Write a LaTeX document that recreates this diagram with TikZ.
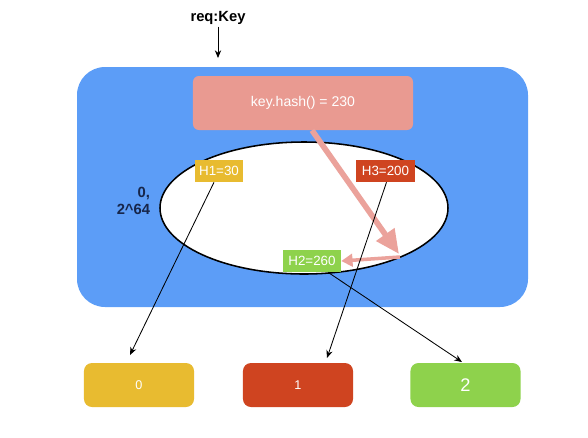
\documentclass[tikz,border=0pt]{standalone}
\usepackage{fontspec}
\setmainfont{Liberation Sans}
\usetikzlibrary{arrows.meta}

\definecolor{ringblue}{HTML}{5C9DF7}
\definecolor{hashpink}{HTML}{E99A91}
\definecolor{arrowpink}{HTML}{EBA29B}
\definecolor{nodeyellow}{HTML}{E8BB30}
\definecolor{nodered}{HTML}{CF4420}
\definecolor{nodegreen}{HTML}{8ED24C}
\definecolor{labelnavy}{HTML}{17264A}

\tikzset{
  hashpt/.style={fill=#1, text=white, inner sep=0pt, minimum height=0.55cm, font=\fontsize{9.5}{11}\selectfont},
  server/.style={fill=#1, text=white, rounded corners=0.2cm, minimum width=2.75cm, minimum height=1.1cm, inner sep=0pt},
  link/.style={-{Stealth[length=5.5pt,width=4.5pt]}, line width=0.6pt}
}

\begin{document}
\begin{tikzpicture}[x=0.025cm, y=-0.025cm]
    \useasboundingbox (0,0) rectangle (588,437);

    % request
    \node[font=\bfseries\fontsize{10.5}{12}\selectfont] (req) at (218,18) {req:Key};
    \coordinate (reqtip) at (218,58);
    \draw[link] (req.south) ++(0,-3) -- (reqtip);

    % hash ring
    \draw[fill=ringblue, draw=none, rounded corners=0.7cm] (77,67) rectangle (528,307);
    \node[fill=hashpink, text=white, rounded corners=0.15cm, minimum width=5.5cm, minimum height=1.35cm,
          inner sep=0pt, font=\fontsize{10}{12}\selectfont] (hash) at (303,103) {key.hash() = 230};
    \draw[fill=white, line width=1.1pt] (304,208) ellipse [x radius=144, y radius=66];
    \node[font=\bfseries\fontsize{10.5}{12.5}\selectfont, text=labelnavy, align=right, anchor=east] (range) at (155,201) {0,\\2\^{}64};

    % points on the ring
    \node[hashpt=nodeyellow, minimum width=1.2cm] (h1) at (219,171) {H1=30};
    \node[hashpt=nodered, minimum width=1.475cm] (h3) at (385.5,171) {H3=200};
    \node[hashpt=nodegreen, minimum width=1.45cm] (h2) at (312,261) {H2=260};

    % walk clockwise to the next point
    \coordinate (hit) at (399,254);
    \coordinate (hitback) at (400,257);
    \draw[arrowpink, line width=4pt, -{Triangle[length=17pt,width=15pt]}] (hash.south) ++(9,0) -- (hit);
    \draw[arrowpink, line width=2.5pt, -{Triangle[length=8pt,width=9pt]}] (hitback) -- (h2.east);

    % servers
    \node[server=nodeyellow, font=\fontsize{9}{11}\selectfont] (s0) at (139,385) {0};
    \node[server=nodered, font=\fontsize{9}{11}\selectfont] (s1) at (298,385) {1};
    \node[server=nodegreen, font=\fontsize{13}{15}\selectfont] (s2) at (465.5,385) {2};

    \coordinate (s0in) at (130,355);
    \coordinate (s1in) at (327,358);
    \coordinate (s2in) at (462,362);
    \draw[link] (h1.south) ++(-5,0) -- (s0in);
    \draw[link] (h3.south) ++(1,0) -- (s1in);
    \draw[link] (h2.south) ++(16,0) -- (s2in);
\end{tikzpicture}
\end{document}
